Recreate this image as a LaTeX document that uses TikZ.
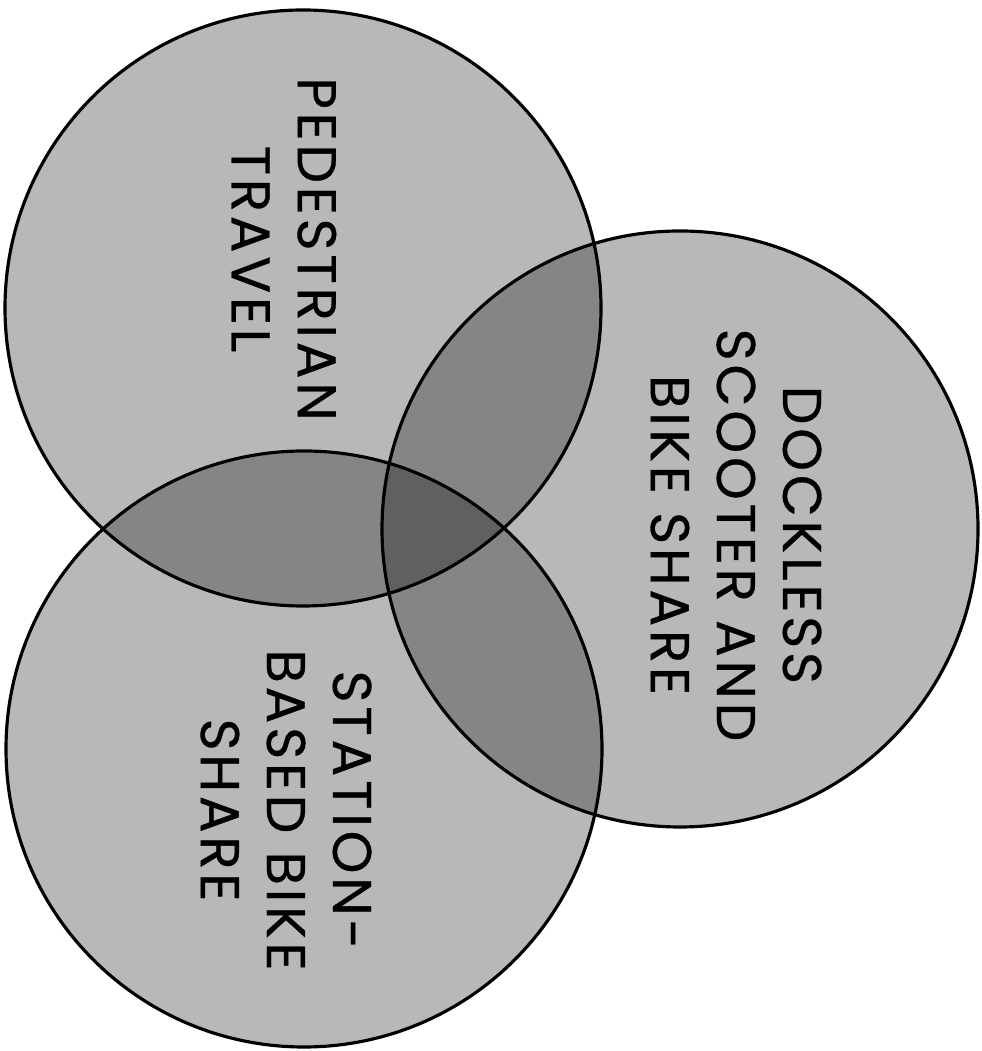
\documentclass[tikz,border=0pt]{standalone}
\usepackage{fontspec}
\setmainfont{Poppins}[LetterSpace=7,FakeBold=0.6]
\usepackage{tikz}
\usetikzlibrary{positioning}

\begin{document}
\begin{tikzpicture}
    \useasboundingbox (0,0) rectangle (9.82,10.51);
    % shaded sets
    \node[circle,fill=black,fill opacity=0.28,inner sep=0pt,minimum size=5.96cm] (walk) at (3.03,7.43) {};
    \node[circle,fill=black,fill opacity=0.28,inner sep=0pt,minimum size=5.96cm] (dockless) at (6.80,5.22) {};
    \node[circle,fill=black,fill opacity=0.28,inner sep=0pt,minimum size=5.96cm] (station) at (3.04,3.02) {};
    % outlines
    \foreach \set in {walk,dockless,station}
      \draw[line width=0.9pt] (\set.center) circle[radius=2.98];
    % labels
    \node[rotate=-90,align=center,font=\fontsize{15.5}{18.8}\selectfont] (walklabel) at (2.84,8.02) {PEDESTRIAN\\TRAVEL};
    \node[rotate=-90,align=center,font=\fontsize{15.5}{18.8}\selectfont] (docklesslabel) at (7.36,5.16) {DOCKLESS\\SCOOTER AND\\BIKE SHARE};
    \node[rotate=-90,align=center,font=\fontsize{15.5}{18.8}\selectfont] (stationlabel) at (2.86,2.41) {STATION-\\BASED BIKE\\SHARE};
  \end{tikzpicture}
\end{document}
